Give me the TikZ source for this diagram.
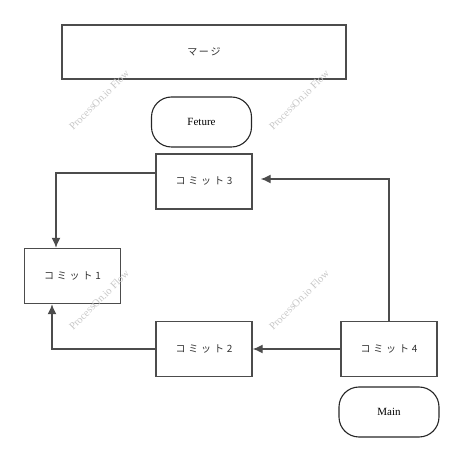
\documentclass[tikz,border=0pt]{standalone}
\usepackage{fontspec}
\setmainfont{Liberation Serif}
\newfontfamily\jpfont{Noto Sans CJK JP}
\usetikzlibrary{arrows.meta}

\begin{document}
\begin{tikzpicture}[x=1pt, y=-1pt,
    box/.style={draw=black!70, line width=1.4pt, fill=white, minimum width=96pt, minimum height=55pt, inner sep=0pt, text=black!80, font=\jpfont\fontsize{10}{12}\selectfont},
    branch/.style={draw=black!85, line width=1.1pt, rounded corners=20pt, minimum width=100pt, minimum height=50pt, inner sep=0pt, font=\fontsize{11}{13}\selectfont},
    link/.style={draw=black!70, line width=1.4pt, -{Latex[length=10pt, width=9pt]}},
    mark text/.style={text=black!22, rotate=45, font=\fontsize{10.5}{12}\selectfont}]
            \useasboundingbox (0,0) rectangle (464,462);
            % merge box and branches
            \node[box, minimum width=284pt, minimum height=54pt] (merge) at (204,52) {マ\,ー\,ジ};
            \node[branch] (feture) at (201.5,122) {Feture};
            \node[branch] (main) at (389,412) {Main};
            % commits
            \node[box] (c3) at (204,181.5) {コ\;ミ\;ッ\;ト\;3};
            \node[box] (c1) at (72.5,276) {コ\;ミ\;ッ\;ト\;1};
            \node[box] (c2) at (204,349) {コ\;ミ\;ッ\;ト\;2};
            \node[box] (c4) at (389,349) {コ\;ミ\;ッ\;ト\;4};
            % edges
            \draw[link] ([yshift=8.5pt]c3.west) -| ([xshift=-16.5pt]c1.north);
            \draw[link] (c2.west) -| ([xshift=-20.5pt]c1.south);
            \draw[link] (c4.west) -- (c2.east);
            \draw[link, shorten >=8pt] (c4.north) |- ([yshift=2.5pt]c3.east);
            % watermarks
            \node[mark text] (wm1) at (99,100) {ProcessOn.io Flow};
            \node[mark text] (wm2) at (299,100) {ProcessOn.io Flow};
            \node[mark text] (wm3) at (99,300) {ProcessOn.io Flow};
            \node[mark text] (wm4) at (299,300) {ProcessOn.io Flow};
        \end{tikzpicture}
\end{document}
